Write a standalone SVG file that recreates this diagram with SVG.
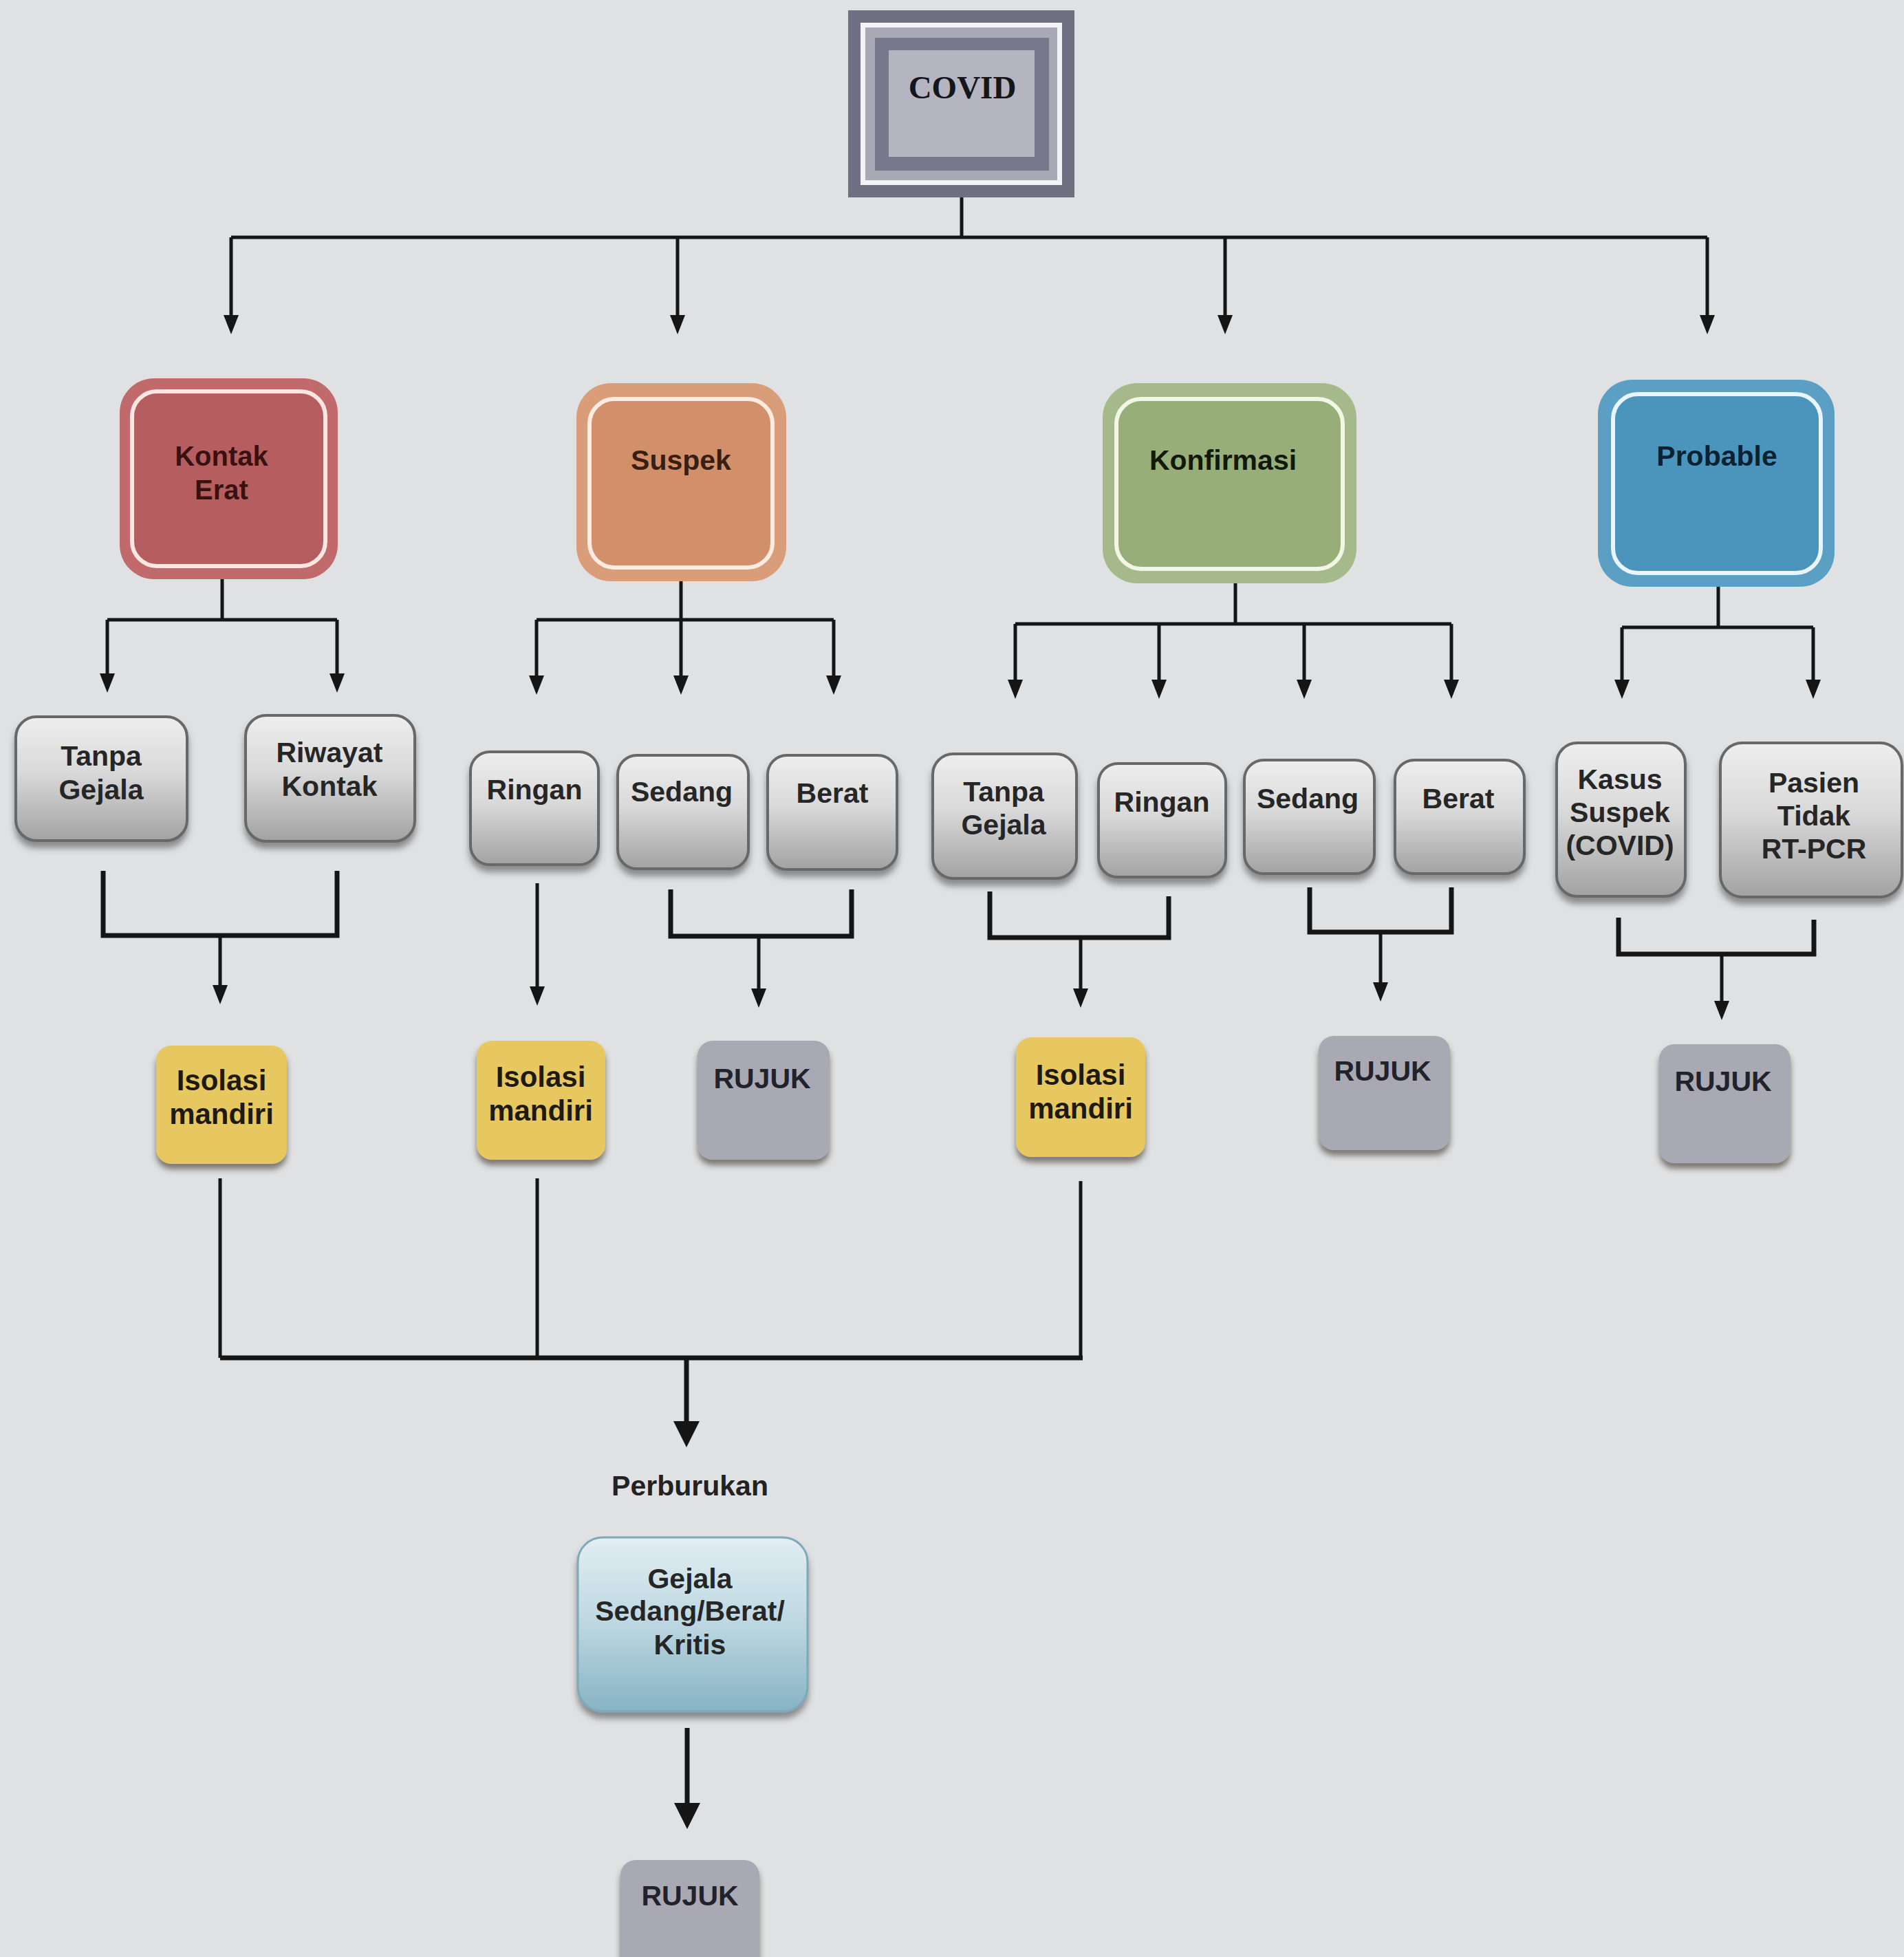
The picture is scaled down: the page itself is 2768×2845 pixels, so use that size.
<svg xmlns="http://www.w3.org/2000/svg" width="2768" height="2845" viewBox="0 0 2768 2845">
<style>
text{font-family:"Liberation Sans",Arial,sans-serif;font-weight:bold;text-anchor:middle;}
.lbl{font-size:41px;fill:#262626;}
.lblb{font-size:42px;fill:#1e1a10;}
.cn{fill:none;stroke:#151515;stroke-width:5;}
.br{fill:none;stroke:#151515;stroke-width:7;}
.gbox{fill:url(#gGray);stroke:#686868;stroke-width:4;filter:url(#sh);}
.ybox{fill:#e7c860;filter:url(#sh2);}
.rbox{fill:#a9a9b4;filter:url(#sh2);}
</style>
<defs>
<linearGradient id="gGray" x1="0" y1="0" x2="0" y2="1">
<stop offset="0" stop-color="#eeeeee"/><stop offset="0.45" stop-color="#d9d9d9"/><stop offset="1" stop-color="#a2a2a2"/>
</linearGradient>
<linearGradient id="gBlue" x1="0" y1="0" x2="0" y2="1">
<stop offset="0" stop-color="#e2eef2"/><stop offset="0.5" stop-color="#bcd7e1"/><stop offset="1" stop-color="#86b3c4"/>
</linearGradient>
<filter id="sh" x="-10%" y="-10%" width="120%" height="130%">
<feDropShadow dx="0" dy="9" stdDeviation="5" flood-color="#444" flood-opacity="0.55"/>
</filter>
<filter id="sh2" x="-10%" y="-10%" width="120%" height="130%">
<feDropShadow dx="0" dy="8" stdDeviation="4" flood-color="#3a3528" flood-opacity="0.6"/>
</filter>
<marker id="ah" markerUnits="userSpaceOnUse" markerWidth="30" markerHeight="24" refX="18" refY="12" orient="auto" viewBox="0 0 30 24">
<path d="M0,1 L28,12 L0,23 z" fill="#151515"/>
</marker>
<marker id="ahL" markerUnits="userSpaceOnUse" markerWidth="40" markerHeight="38" refX="24" refY="19" orient="auto" viewBox="0 0 40 38">
<path d="M0,0 L38,19 L0,38 z" fill="#151515"/>
</marker>
</defs>
<rect x="0" y="0" width="2768" height="2845" fill="#dfe1e3"/>

<g id="connectors">
<path class="cn" d="M1398,287 V345"/>
<path class="cn" d="M336,345 H2482"/>
<path class="cn" d="M336,345 V476" marker-end="url(#ah)"/>
<path class="cn" d="M985,345 V476" marker-end="url(#ah)"/>
<path class="cn" d="M1781,345 V476" marker-end="url(#ah)"/>
<path class="cn" d="M2482,345 V476" marker-end="url(#ah)"/>

<path class="cn" d="M323,842 V901"/>
<path class="cn" d="M156,901 H490"/>
<path class="cn" d="M156,901 V997" marker-end="url(#ah)"/>
<path class="cn" d="M490,901 V997" marker-end="url(#ah)"/>

<path class="cn" d="M990,845 V901"/>
<path class="cn" d="M780,901 H1212"/>
<path class="cn" d="M780,901 V1000" marker-end="url(#ah)"/>
<path class="cn" d="M990,901 V1000" marker-end="url(#ah)"/>
<path class="cn" d="M1212,901 V1000" marker-end="url(#ah)"/>

<path class="cn" d="M1796,848 V907"/>
<path class="cn" d="M1476,907 H2110"/>
<path class="cn" d="M1476,907 V1006" marker-end="url(#ah)"/>
<path class="cn" d="M1685,907 V1006" marker-end="url(#ah)"/>
<path class="cn" d="M1896,907 V1006" marker-end="url(#ah)"/>
<path class="cn" d="M2110,907 V1006" marker-end="url(#ah)"/>

<path class="cn" d="M2498,853 V912"/>
<path class="cn" d="M2358,912 H2636"/>
<path class="cn" d="M2358,912 V1006" marker-end="url(#ah)"/>
<path class="cn" d="M2636,912 V1006" marker-end="url(#ah)"/>

<path class="br" d="M150,1266 V1360 H490 V1266"/>
<path class="cn" d="M320,1360 V1450" marker-end="url(#ah)"/>
<path class="cn" d="M781,1284 V1452" marker-end="url(#ah)"/>
<path class="br" d="M975,1293 V1361 H1238 V1293"/>
<path class="cn" d="M1103,1361 V1455" marker-end="url(#ah)"/>
<path class="br" d="M1439,1296 V1363 H1699 V1303"/>
<path class="cn" d="M1571,1363 V1455" marker-end="url(#ah)"/>
<path class="br" d="M1904,1290 V1355 H2110 V1290"/>
<path class="cn" d="M2007,1355 V1446" marker-end="url(#ah)"/>
<path class="br" d="M2353,1334 V1387 H2637 V1337"/>
<path class="cn" d="M2503,1387 V1473" marker-end="url(#ah)"/>

<path class="cn" d="M320,1713 V1974"/>
<path class="cn" d="M781,1713 V1974"/>
<path class="cn" d="M1571,1717 V1974"/>
<path class="br" d="M320,1974 H1574"/>
<path class="br" d="M998,1974 V2090" marker-end="url(#ahL)"/>
<path class="br" d="M999,2512 V2645" marker-end="url(#ahL)"/>
</g>

<g id="covid">
<rect x="1233" y="15" width="329" height="272" fill="#6f6f82"/>
<rect x="1251" y="33" width="293" height="236" fill="#f3f3f6"/>
<rect x="1258" y="40" width="279" height="222" fill="#a9a9b6"/>
<rect x="1272" y="55" width="253" height="193" fill="#78788c"/>
<rect x="1292" y="73" width="212" height="155" fill="#b5b5c1"/>
<text x="1399" y="143" style="font-family:'Liberation Serif','Times New Roman',serif;font-size:47px;fill:#15151c;">COVID</text>
</g>

<g id="kontak-erat">
<rect x="174" y="550" width="317" height="292" rx="50" fill="#c06a6b"/>
<rect x="192" y="569" width="281" height="254" rx="36" fill="#b65e5f" stroke="#fbe6e2" stroke-width="6"/>
<text x="322" y="677" style="font-size:40px;fill:#3a1111;">Kontak</text>
<text x="322" y="726" style="font-size:40px;fill:#3a1111;">Erat</text>
</g>
<g id="suspek">
<rect x="838" y="557" width="305" height="288" rx="50" fill="#d99d7a"/>
<rect x="857" y="580" width="266" height="245" rx="36" fill="#d2906a" stroke="#fcebe0" stroke-width="6"/>
<text x="990" y="683" style="font-size:41px;fill:#3a1e12;">Suspek</text>
</g>
<g id="konfirmasi">
<rect x="1603" y="557" width="369" height="291" rx="50" fill="#a6b98b"/>
<rect x="1623" y="580" width="329" height="247" rx="36" fill="#98ae79" stroke="#f1f7e4" stroke-width="6"/>
<text x="1778" y="683" style="font-size:41px;fill:#111a0a;">Konfirmasi</text>
</g>
<g id="probable">
<rect x="2323" y="552" width="344" height="301" rx="50" fill="#5c9fc4"/>
<rect x="2345" y="573" width="302" height="260" rx="36" fill="#4b95bd" stroke="#e8f5fc" stroke-width="6"/>
<text x="2496" y="677" style="font-size:41px;fill:#0c2232;">Probable</text>
</g>

<g id="ke-tanpa-gejala">
<rect class="gbox" x="23" y="1042" width="249" height="180" rx="30"/>
<text class="lbl" x="147" y="1113">Tanpa</text>
<text class="lbl" x="147" y="1162">Gejala</text>
</g>
<g id="riwayat-kontak">
<rect class="gbox" x="357" y="1040" width="246" height="183" rx="30"/>
<text class="lbl" x="479" y="1108">Riwayat</text>
<text class="lbl" x="479" y="1157">Kontak</text>
</g>
<g id="s-ringan">
<rect class="gbox" x="684" y="1093" width="186" height="164" rx="28"/>
<text class="lbl" x="777" y="1162">Ringan</text>
</g>
<g id="s-sedang">
<rect class="gbox" x="898" y="1098" width="190" height="165" rx="28"/>
<text class="lbl" x="991" y="1165">Sedang</text>
</g>
<g id="s-berat">
<rect class="gbox" x="1116" y="1098" width="188" height="166" rx="28"/>
<text class="lbl" x="1210" y="1167">Berat</text>
</g>
<g id="k-tanpa-gejala">
<rect class="gbox" x="1356" y="1096" width="209" height="181" rx="30"/>
<text class="lbl" x="1459" y="1165">Tanpa</text>
<text class="lbl" x="1459" y="1213">Gejala</text>
</g>
<g id="k-ringan">
<rect class="gbox" x="1597" y="1110" width="185" height="165" rx="28"/>
<text class="lbl" x="1689" y="1180">Ringan</text>
</g>
<g id="k-sedang">
<rect class="gbox" x="1809" y="1105" width="189" height="165" rx="28"/>
<text class="lbl" x="1901" y="1175">Sedang</text>
</g>
<g id="k-berat">
<rect class="gbox" x="2028" y="1105" width="188" height="165" rx="28"/>
<text class="lbl" x="2120" y="1175">Berat</text>
</g>
<g id="kasus-suspek">
<rect class="gbox" x="2263" y="1080" width="187" height="223" rx="30"/>
<text class="lbl" x="2355" y="1147">Kasus</text>
<text class="lbl" x="2355" y="1195">Suspek</text>
<text class="lbl" x="2355" y="1243">(COVID)</text>
</g>
<g id="pasien-tidak-rtpcr">
<rect class="gbox" x="2501" y="1080" width="264" height="224" rx="32"/>
<text class="lbl" x="2637" y="1152">Pasien</text>
<text class="lbl" x="2637" y="1200">Tidak</text>
<text class="lbl" x="2637" y="1248">RT-PCR</text>
</g>

<g id="isolasi-1">
<rect class="ybox" x="227" y="1520" width="190" height="172" rx="22"/>
<text class="lblb" x="322" y="1585">Isolasi</text>
<text class="lblb" x="322" y="1634">mandiri</text>
</g>
<g id="isolasi-2">
<rect class="ybox" x="693" y="1513" width="187" height="173" rx="22"/>
<text class="lblb" x="786" y="1580">Isolasi</text>
<text class="lblb" x="786" y="1629">mandiri</text>
</g>
<g id="rujuk-1">
<rect class="rbox" x="1014" y="1513" width="192" height="173" rx="22"/>
<text class="lbl" x="1108" y="1582" style="fill:#22222c;">RUJUK</text>
</g>
<g id="isolasi-3">
<rect class="ybox" x="1477" y="1508" width="188" height="174" rx="22"/>
<text class="lblb" x="1571" y="1577">Isolasi</text>
<text class="lblb" x="1571" y="1626">mandiri</text>
</g>
<g id="rujuk-2">
<rect class="rbox" x="1917" y="1506" width="191" height="166" rx="22"/>
<text class="lbl" x="2010" y="1571" style="fill:#22222c;">RUJUK</text>
</g>
<g id="rujuk-3">
<rect class="rbox" x="2412" y="1518" width="191" height="173" rx="22"/>
<text class="lbl" x="2505" y="1586" style="fill:#22222c;">RUJUK</text>
</g>

<g id="perburukan">
<text class="lbl" x="1003" y="2174" style="fill:#222;">Perburukan</text>
</g>
<g id="gejala-kritis">
<rect x="840" y="2235" width="334" height="253" rx="36" fill="url(#gBlue)" stroke="#7fa8b8" stroke-width="3" filter="url(#sh)"/>
<text class="lbl" x="1003" y="2309">Gejala</text>
<text class="lbl" x="1003" y="2356">Sedang/Berat/</text>
<text class="lbl" x="1003" y="2405">Kritis</text>
</g>
<g id="rujuk-final">
<rect class="rbox" x="902" y="2704" width="202" height="170" rx="22"/>
<text class="lbl" x="1003" y="2770" style="fill:#22222c;">RUJUK</text>
</g>
</svg>
